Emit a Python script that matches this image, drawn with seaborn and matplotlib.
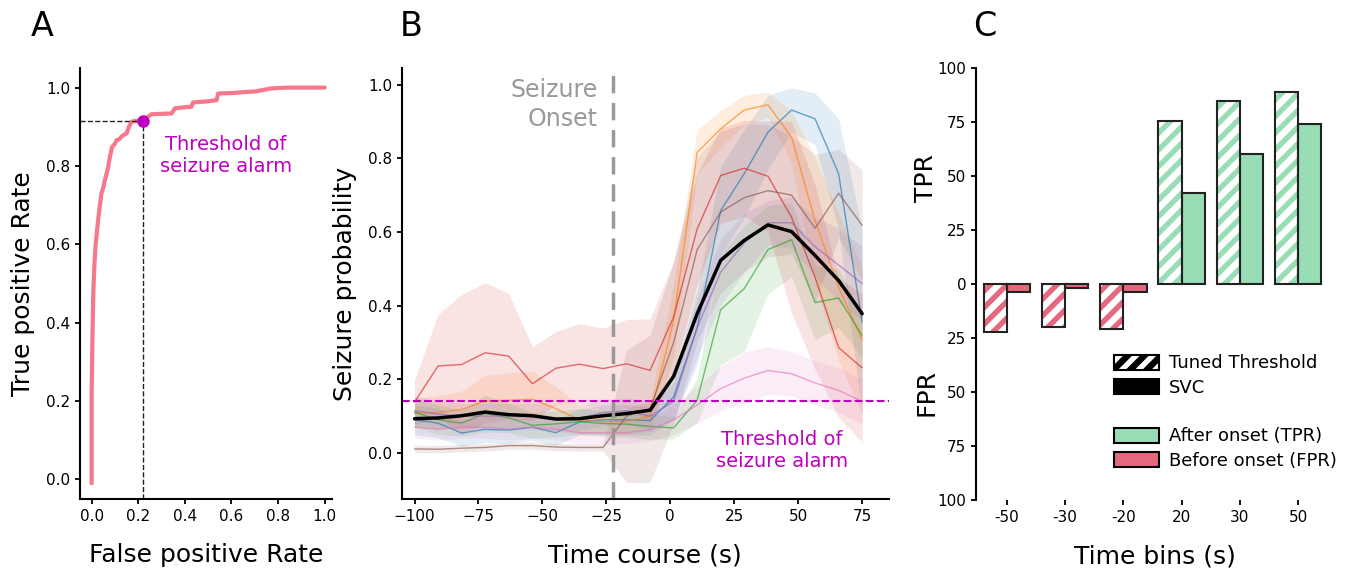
import numpy as np
import pandas as pd
import seaborn as sns
import matplotlib.pyplot as plt
from matplotlib.patches import Patch, Rectangle

# ---- panel A: ROC curve ----
roc_fpr = [0.0, 0.0, 0.003, 0.007, 0.012, 0.017, 0.024, 0.031, 0.042, 0.05, 0.057, 0.064,
           0.071, 0.079, 0.088, 0.098, 0.107, 0.118, 0.128, 0.14, 0.15, 0.16, 0.171, 0.19,
           0.222, 0.24, 0.257, 0.3, 0.343, 0.35, 0.357, 0.4, 0.428, 0.435, 0.5, 0.536,
           0.543, 0.6, 0.664, 0.7, 0.771, 0.8, 0.843, 0.9, 1.0]
roc_tpr = [-0.01, 0.22, 0.35, 0.475, 0.55, 0.598, 0.64, 0.679, 0.73, 0.745, 0.764, 0.78,
           0.798, 0.825, 0.849, 0.855, 0.866, 0.868, 0.875, 0.88, 0.883, 0.9, 0.913, 0.915,
           0.915, 0.925, 0.932, 0.933, 0.934, 0.94, 0.947, 0.95, 0.951, 0.962, 0.965, 0.968,
           0.985, 0.986, 0.989, 0.99, 0.998, 0.999, 1.0, 1.0, 1.0]
thr_fpr = 0.222
thr_tpr = 0.915

# ---- panel B: seizure probability per patient ----
time_s = [-100.0, -90.8, -81.6, -72.4, -63.2, -53.9, -44.7, -35.5, -26.3, -17.1,
          -7.9, 1.3, 10.5, 19.7, 28.9, 38.2, 47.4, 56.6, 65.8, 75.0]
blue_mean = [0.09, 0.081, 0.054, 0.064, 0.062, 0.07, 0.055, 0.084, 0.09, 0.09,
             0.088, 0.152, 0.34, 0.658, 0.758, 0.871, 0.931, 0.907, 0.758, 0.355]
blue_sd = [0.04, 0.04, 0.035, 0.035, 0.035, 0.035, 0.035, 0.035, 0.04, 0.04,
           0.04, 0.06, 0.1, 0.12, 0.12, 0.1, 0.06, 0.07, 0.15, 0.25]
orange_mean = [0.108, 0.11, 0.118, 0.141, 0.143, 0.146, 0.12, 0.09, 0.085, 0.085,
               0.1, 0.36, 0.816, 0.88, 0.931, 0.945, 0.857, 0.631, 0.45, 0.306]
orange_sd = [0.04, 0.045, 0.05, 0.07, 0.075, 0.075, 0.06, 0.04, 0.035, 0.035,
             0.04, 0.1, 0.06, 0.05, 0.04, 0.035, 0.07, 0.17, 0.2, 0.2]
green_mean = [0.111, 0.09, 0.081, 0.107, 0.095, 0.075, 0.079, 0.085, 0.08, 0.078,
              0.072, 0.068, 0.143, 0.389, 0.446, 0.552, 0.579, 0.408, 0.421, 0.319]
green_sd = [0.04, 0.04, 0.035, 0.05, 0.04, 0.035, 0.035, 0.035, 0.035, 0.035,
            0.035, 0.03, 0.06, 0.15, 0.17, 0.12, 0.1, 0.1, 0.08, 0.06]
red_mean = [0.138, 0.236, 0.24, 0.272, 0.263, 0.188, 0.23, 0.241, 0.229, 0.242,
            0.224, 0.369, 0.608, 0.753, 0.773, 0.751, 0.64, 0.477, 0.286, 0.231]
red_sd = [0.06, 0.14, 0.19, 0.19, 0.17, 0.1, 0.1, 0.11, 0.11, 0.12,
          0.14, 0.15, 0.15, 0.13, 0.13, 0.15, 0.26, 0.25, 0.19, 0.2]
purple_mean = [0.115, 0.105, 0.1, 0.1, 0.1, 0.1, 0.095, 0.095, 0.11, 0.115,
               0.1, 0.14, 0.34, 0.491, 0.57, 0.625, 0.625, 0.56, 0.51, 0.46]
purple_sd = [0.04, 0.035, 0.035, 0.035, 0.035, 0.035, 0.035, 0.035, 0.035, 0.035,
             0.04, 0.05, 0.08, 0.09, 0.08, 0.06, 0.07, 0.08, 0.1, 0.1]
brown_mean = [0.011, 0.01, 0.013, 0.015, 0.02, 0.02, 0.016, 0.015, 0.015, 0.1,
              0.12, 0.3, 0.552, 0.654, 0.693, 0.712, 0.70, 0.61, 0.705, 0.618]
brown_sd = [0.01, 0.01, 0.01, 0.01, 0.01, 0.01, 0.01, 0.01, 0.01, 0.18,
            0.2, 0.22, 0.25, 0.22, 0.2, 0.18, 0.16, 0.2, 0.12, 0.15]
pink_mean = [0.07, 0.065, 0.07, 0.07, 0.065, 0.07, 0.065, 0.055, 0.055, 0.055,
             0.063, 0.09, 0.13, 0.175, 0.203, 0.224, 0.215, 0.19, 0.17, 0.14]
pink_sd = [0.03, 0.03, 0.03, 0.03, 0.03, 0.03, 0.03, 0.03, 0.03, 0.03,
           0.03, 0.04, 0.05, 0.06, 0.07, 0.065, 0.06, 0.06, 0.06, 0.06]
avg_mean = [0.093, 0.095, 0.101, 0.111, 0.104, 0.101, 0.092, 0.093, 0.101, 0.107,
            0.116, 0.208, 0.378, 0.523, 0.577, 0.619, 0.601, 0.536, 0.468, 0.378]
onset_time = -22.5
alarm_prob = 0.14

# ---- panel C: TPR / FPR per time bin ----
time_bins = ['-50', '-30', '-20', '20', '30', '50']
tuned_rate = [-22.3, -20.0, -20.8, 75.8, 84.8, 89.2]
svc_rate = [-3.7, -1.6, -3.7, 42.3, 60.2, 74.3]

ROC_COLOR = '#f7788a'
GREEN = '#98ddb5'
PINK = '#e5687f'

sns.set_style("ticks")
plt.rcParams['font.family'] = ['DejaVu Sans']
plt.rcParams['hatch.linewidth'] = 4.6
plt.rcParams['axes.linewidth'] = 1.5
plt.rcParams['axes.edgecolor'] = 'black'
plt.rcParams['axes.labelcolor'] = 'black'
plt.rcParams['text.color'] = 'black'
plt.rcParams['xtick.color'] = 'black'
plt.rcParams['ytick.color'] = 'black'
plt.rcParams['xtick.major.width'] = 1.3
plt.rcParams['ytick.major.width'] = 1.3
plt.rcParams['xtick.labelsize'] = 11
plt.rcParams['ytick.labelsize'] = 11

fig = plt.figure(figsize=(13.49, 5.71), dpi=100)
axA = fig.add_axes([0.0593, 0.1261, 0.1866, 0.7548])
axB = fig.add_axes([0.2978, 0.1261, 0.3612, 0.7548])
axC = fig.add_axes([0.7235, 0.1243, 0.2647, 0.7561])

# A
sns.lineplot(x=roc_fpr, y=roc_tpr, sort=False, estimator=None, color=ROC_COLOR, lw=3, ax=axA)
axA.set_xlim(-0.05, 1.03)
axA.set_ylim(-0.05, 1.05)
axA.plot([-0.05, thr_fpr], [thr_tpr, thr_tpr], ls='--', color='#222222', lw=1)
axA.plot([thr_fpr, thr_fpr], [-0.05, thr_tpr], ls='--', color='#222222', lw=1)
axA.plot(thr_fpr, thr_tpr, 'o', color='m', ms=8, zorder=5)
axA.text(0.576, 0.826, 'Threshold of\nseizure alarm', color='m', fontsize=14,
         ha='center', va='center')
axA.set_xticks(np.arange(0, 1.01, 0.2))
axA.set_yticks(np.arange(0, 1.01, 0.2))
axA.set_xlabel('False positive Rate', fontsize=18, labelpad=14)
axA.set_ylabel('True positive Rate', fontsize=18, labelpad=8)
sns.despine(ax=axA)

# B
series = {
    'p1': (blue_mean, blue_sd), 'p2': (orange_mean, orange_sd),
    'p3': (green_mean, green_sd), 'p4': (red_mean, red_sd),
    'p5': (purple_mean, purple_sd), 'p6': (brown_mean, brown_sd),
    'p7': (pink_mean, pink_sd),
}
pal = sns.color_palette('tab10', len(series))
rows = []
for (name, (m, s)), c in zip(series.items(), pal):
    m = np.array(m)
    s = np.array(s)
    axB.fill_between(time_s, m - s, m + s, color=c, alpha=0.13, lw=0)
    rows.append(pd.DataFrame({'time': time_s, 'prob': m, 'patient': name}))
long_df = pd.concat(rows, ignore_index=True)
sns.lineplot(data=long_df, x='time', y='prob', hue='patient', palette=pal, lw=1,
             alpha=0.65, estimator=None, legend=False, ax=axB)
sns.lineplot(x=time_s, y=avg_mean, color='black', lw=2.5, ax=axB)
axB.axvline(onset_time, color='#999999', ls='--', lw=2.5, dashes=(5, 2.8))
axB.axhline(alarm_prob, color='m', ls='--', lw=1.5)
axB.text(-28.5, 0.945, 'Seizure\nOnset', color='#999999', fontsize=17,
         ha='right', va='center', linespacing=1.25)
axB.text(43.5, 0.007, 'Threshold of\nseizure alarm', color='m', fontsize=14,
         ha='center', va='center')
axB.set_xlim(-105, 85.5)
axB.set_ylim(-0.125, 1.045)
axB.set_xticks(np.arange(-100, 76, 25))
axB.set_yticks(np.arange(0, 1.01, 0.2))
axB.set_xlabel('Time course (s)', fontsize=18, labelpad=14)
axB.set_ylabel('Seizure probability', fontsize=18, labelpad=8)
sns.despine(ax=axB)

# C
bar_df = pd.DataFrame({
    'bin': time_bins * 2,
    'rate': tuned_rate + svc_rate,
    'method': ['Tuned Threshold'] * len(time_bins) + ['SVC'] * len(time_bins),
})
sns.barplot(data=bar_df, x='bin', y='rate', hue='method', order=time_bins,
            hue_order=['Tuned Threshold', 'SVC'], saturation=1, legend=False, ax=axC)
for k, cont in enumerate(axC.containers):
    for bar in cont:
        col = GREEN if bar.get_height() > 0 else PINK
        bar.set_facecolor(col)
        if k == 0:
            bar.set_edgecolor('white')
            bar.set_hatch('//')
            bar.set_linewidth(0)
            axC.add_patch(Rectangle(bar.get_xy(), bar.get_width(), bar.get_height(),
                                    fill=False, edgecolor='#222222', lw=1.5, zorder=3))
        else:
            bar.set_edgecolor('#222222')
            bar.set_linewidth(1.5)
axC.set_ylim(-100, 100)
axC.set_xlim(-0.53, 5.6)
yt = np.arange(-100, 101, 25)
axC.set_yticks(yt)
axC.set_yticklabels([str(abs(v)) for v in yt])
axC.set_xlabel('Time bins (s)', fontsize=18, labelpad=14)
axC.set_ylabel('')
axC.text(-0.14, 0.746, 'TPR', rotation=90, transform=axC.transAxes,
         ha='center', va='center', fontsize=18)
axC.text(-0.14, 0.248, 'FPR', rotation=90, transform=axC.transAxes,
         ha='center', va='center', fontsize=18)
sns.despine(ax=axC, bottom=True)

handles = [
    Patch(facecolor='white', edgecolor='black', hatch='//', lw=1.5),
    Patch(facecolor='black', edgecolor='black', lw=1.5),
    Patch(facecolor='none', edgecolor='none'),
    Patch(facecolor=GREEN, edgecolor='black', lw=1.5),
    Patch(facecolor=PINK, edgecolor='black', lw=1.5),
]
labels = ['Tuned Threshold', 'SVC', '', 'After onset (TPR)', 'Before onset (FPR)']
axC.legend(handles, labels, loc='upper left', bbox_to_anchor=(0.34, 0.375),
           frameon=False, fontsize=13, handlelength=2.5, handleheight=0.9,
           handletextpad=0.55, labelspacing=0.35)

for letter, xp in [('A', 42), ('B', 411), ('C', 985)]:
    fig.text(xp / 1349, 1 - 26 / 571, letter, fontsize=24, ha='center', va='center')

fig.savefig('out.png', dpi=100)
